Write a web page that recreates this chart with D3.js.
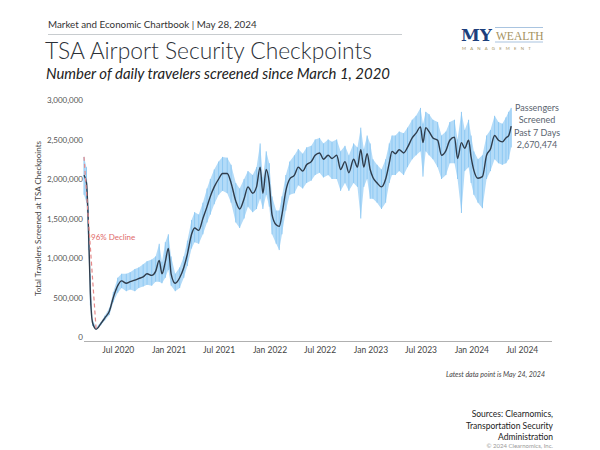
<!DOCTYPE html>
<html>
<head>
<meta charset="utf-8">
<script src="https://cdn.jsdelivr.net/npm/d3@7"></script>
<style>
  body { margin: 0; background: #fff; }
  svg { font-family: 'Lato', 'Noto Sans', sans-serif; }
</style>
</head>
<body>
<svg id="chart" width="600" height="450"></svg>
<script>
// 7-day average and daily range (millions)
const dates = [
  '2020-03-01', '2020-03-10', '2020-03-17', '2020-03-24', '2020-04-01', '2020-04-14',
  '2020-05-01', '2020-05-15', '2020-06-01', '2020-06-15', '2020-07-01', '2020-07-15',
  '2020-08-01', '2020-08-15', '2020-09-01', '2020-09-15', '2020-10-01', '2020-10-15',
  '2020-11-01', '2020-11-15', '2020-11-28', '2020-12-08', '2020-12-20', '2020-12-31',
  '2021-01-10', '2021-01-25', '2021-02-10', '2021-02-25', '2021-03-10', '2021-03-25',
  '2021-04-05', '2021-04-20', '2021-05-05', '2021-05-20', '2021-06-01', '2021-06-15',
  '2021-07-01', '2021-07-15', '2021-08-01', '2021-08-15', '2021-09-01', '2021-09-15',
  '2021-10-01', '2021-10-15', '2021-11-01', '2021-11-15', '2021-11-28', '2021-12-08',
  '2021-12-20', '2021-12-31', '2022-01-10', '2022-01-25', '2022-02-05', '2022-02-15',
  '2022-03-01', '2022-03-15', '2022-04-01', '2022-04-15', '2022-05-01', '2022-05-15',
  '2022-06-01', '2022-06-15', '2022-07-01', '2022-07-15', '2022-08-01', '2022-08-15',
  '2022-09-01', '2022-09-15', '2022-10-01', '2022-10-15', '2022-11-01', '2022-11-15',
  '2022-11-27', '2022-12-08', '2022-12-20', '2022-12-31', '2023-01-10', '2023-01-25',
  '2023-02-10', '2023-02-25', '2023-03-10', '2023-03-20', '2023-04-01', '2023-04-15',
  '2023-05-01', '2023-05-15', '2023-06-01', '2023-06-15', '2023-07-01', '2023-07-10',
  '2023-07-20', '2023-08-01', '2023-08-15', '2023-09-01', '2023-09-15', '2023-10-01',
  '2023-10-15', '2023-11-01', '2023-11-12', '2023-11-26', '2023-12-08', '2023-12-22',
  '2023-12-31', '2024-01-10', '2024-01-25', '2024-02-10', '2024-02-25', '2024-03-10',
  '2024-03-25', '2024-04-08', '2024-04-22', '2024-05-05', '2024-05-15', '2024-05-24',
]

const avg7 = [
  2.05, 1.95, 1.40, 0.55, 0.18, 0.10,
  0.17, 0.24, 0.33, 0.50, 0.65, 0.71,
  0.68, 0.70, 0.72, 0.74, 0.76, 0.80,
  0.78, 0.83, 0.97, 0.80, 0.95, 1.12,
  0.80, 0.68, 0.75, 0.88, 1.05, 1.30,
  1.38, 1.35, 1.50, 1.65, 1.78, 1.90,
  2.00, 2.07, 2.07, 1.95, 1.72, 1.62,
  1.75, 1.90, 1.82, 1.90, 2.15, 1.82,
  2.12, 1.95, 1.55, 1.42, 1.40, 1.55,
  1.85, 2.00, 2.05, 2.15, 2.10, 2.18,
  2.22, 2.30, 2.33, 2.25, 2.30, 2.26,
  2.30, 2.12, 2.22, 2.08, 2.25, 2.15,
  2.37, 2.15, 2.32, 2.12, 2.02, 1.95,
  1.90, 2.00, 2.20, 2.35, 2.32, 2.37,
  2.33, 2.40, 2.52, 2.58, 2.66, 2.46,
  2.65, 2.60, 2.52, 2.49, 2.30, 2.36,
  2.49, 2.53, 2.26, 2.46, 2.39, 2.49,
  2.28, 2.11, 2.01, 2.03, 2.30, 2.38,
  2.55, 2.49, 2.47, 2.52, 2.55, 2.67,
]

const dailyLow = [
  1.80, 1.70, 1.10, 0.40, 0.14, 0.09,
  0.15, 0.21, 0.28, 0.44, 0.56, 0.62,
  0.58, 0.60, 0.58, 0.62, 0.64, 0.66,
  0.65, 0.70, 0.70, 0.68, 0.75, 0.85,
  0.65, 0.58, 0.62, 0.75, 0.90, 1.12,
  1.20, 1.18, 1.30, 1.45, 1.55, 1.68,
  1.80, 1.85, 1.82, 1.70, 1.45, 1.38,
  1.50, 1.65, 1.58, 1.62, 1.75, 1.62,
  1.80, 1.65, 1.30, 1.18, 1.10, 1.30,
  1.60, 1.80, 1.82, 1.92, 1.88, 1.95,
  1.98, 2.05, 2.08, 2.02, 2.05, 2.00,
  2.00, 1.85, 1.95, 1.85, 1.95, 1.90,
  1.50, 1.90, 2.00, 1.75, 1.75, 1.70,
  1.62, 1.70, 1.95, 2.05, 2.05, 2.10,
  2.05, 2.15, 2.25, 2.30, 2.35, 2.03,
  2.35, 2.30, 2.25, 2.15, 2.00, 2.05,
  2.20, 2.20, 2.00, 1.57, 2.10, 2.15,
  1.95, 1.80, 1.70, 1.63, 2.00, 2.10,
  2.25, 2.20, 2.18, 2.20, 2.25, 2.40,
]

const dailyHigh = [
  2.28, 2.15, 1.65, 0.80, 0.22, 0.12,
  0.19, 0.27, 0.37, 0.57, 0.75, 0.80,
  0.80, 0.82, 0.86, 0.88, 0.92, 0.96,
  0.98, 1.02, 1.18, 0.95, 1.20, 1.30,
  1.02, 0.80, 0.88, 1.02, 1.22, 1.48,
  1.58, 1.55, 1.70, 1.88, 2.00, 2.12,
  2.22, 2.28, 2.27, 2.18, 1.95, 1.88,
  2.00, 2.10, 2.05, 2.15, 2.45, 2.02,
  2.35, 2.20, 1.78, 1.60, 1.60, 1.78,
  2.05, 2.22, 2.30, 2.38, 2.32, 2.40,
  2.42, 2.50, 2.52, 2.45, 2.50, 2.47,
  2.50, 2.35, 2.42, 2.30, 2.45, 2.40,
  2.65, 2.38, 2.55, 2.45, 2.25, 2.18,
  2.12, 2.25, 2.45, 2.55, 2.55, 2.60,
  2.58, 2.65, 2.75, 2.80, 2.90, 2.70,
  2.85, 2.82, 2.75, 2.72, 2.55, 2.60,
  2.72, 2.75, 2.50, 2.85, 2.62, 2.75,
  2.55, 2.35, 2.25, 2.30, 2.55, 2.62,
  2.80, 2.72, 2.70, 2.78, 2.85, 2.90,
]

const yTicks = [0, 500000, 1000000, 1500000, 2000000, 2500000, 3000000]
const xTicks = [
  '2020-07-01', '2021-01-01', '2021-07-01', '2022-01-01', '2022-07-01',
  '2023-01-01', '2023-07-01', '2024-01-01', '2024-07-01',
]
const latestLabel = ['Passengers', 'Screened', 'Past 7 Days', '2,670,474']
const sourceLines = ['Sources: Clearnomics,', 'Transportation  Security', 'Administration']

const parse = d3.timeParse('%Y-%m-%d')
const data = dates.map((d, i) => ({
  date: parse(d),
  avg: avg7[i] * 1e6,
  low: dailyLow[i] * 1e6,
  high: dailyHigh[i] * 1e6,
}))

const svg = d3.select('#chart')

const x = d3
  .scaleTime()
  .domain([parse('2020-03-01'), parse('2024-10-15')])
  .range([84, 551])

const y = d3.scaleLinear().domain([0, 3000000]).range([337, 100])

// header
svg
  .append('text')
  .attr('x', 48)
  .attr('y', 28)
  .style('font-size', '9.8px')
  .style('fill', '#333')
  .text('Market and Economic Chartbook | May 28, 2024')

svg
  .append('line')
  .attr('x1', 48)
  .attr('x2', 402)
  .attr('y1', 34.5)
  .attr('y2', 34.5)
  .style('stroke', '#c8cccf')
  .style('stroke-width', 1)

svg
  .append('text')
  .attr('x', 45)
  .attr('y', 59)
  .style('font-size', '22.8px')
  .style('font-weight', 300)
  .style('fill', '#2c3138')
  .text('TSA Airport Security Checkpoints')

svg
  .append('text')
  .attr('x', 46)
  .attr('y', 79)
  .style('font-size', '14.9px')
  .style('font-style', 'italic')
  .style('fill', '#222')
  .text('Number of daily travelers screened since March 1, 2020')

// logo
const logo = svg.append('g').attr('transform', 'translate(461, 0)')
logo
  .append('text')
  .attr('x', 0)
  .attr('y', 41)
  .style('font-family', "'DejaVu Serif', 'Liberation Serif', serif")
  .style('font-weight', 'bold')
  .style('font-size', '17px')
  .style('fill', '#1d3f7c')
  .text('MY')
logo
  .append('text')
  .attr('x', 35)
  .attr('y', 39.5)
  .style('font-family', "'Liberation Serif', serif")
  .style('font-size', '11.5px')
  .style('fill', '#a4915e')
  .text('WEALTH')
logo
  .selectAll('.logo-rule')
  .data([27.5, 42])
  .enter()
  .append('line')
  .attr('class', 'logo-rule')
  .attr('x1', 34)
  .attr('x2', 82)
  .attr('y1', (d) => d)
  .attr('y2', (d) => d)
  .style('stroke', '#a9c4e0')
  .style('stroke-width', 1.2)
logo
  .append('text')
  .attr('x', 1)
  .attr('y', 50)
  .style('font-size', '4.3px')
  .style('letter-spacing', '4.2px')
  .style('fill', '#a4915e')
  .text('MANAGEMENT')

// y axis
svg
  .append('g')
  .style('font-size', '8px')
  .selectAll('text')
  .data(yTicks)
  .enter()
  .append('text')
  .attr('x', 83)
  .attr('y', (d) => y(d) + 3)
  .attr('text-anchor', 'end')
  .style('fill', '#555')
  .text(d3.format(','))

svg
  .append('text')
  .attr('text-anchor', 'middle')
  .attr('transform', `translate(41, ${(y(0) + y(3000000)) / 2}) rotate(-90)`)
  .style('font-size', '8px')
  .style('fill', '#444')
  .text('Total Travelers Screened at TSA Checkpoints')

// x axis
svg
  .append('g')
  .attr('transform', 'translate(0, 341)')
  .call(
    d3
      .axisBottom(x)
      .tickValues(xTicks.map(parse))
      .tickFormat(d3.timeFormat('%b %Y'))
      .tickSize(0)
      .tickPadding(6),
  )
  .call((g) => g.select('.domain').attr('stroke', '#b0b0b0').attr('d', 'M84,0.5H552'))
  .call((g) =>
    g
      .selectAll('text')
      .style('font-family', "'Lato', 'Noto Sans', sans-serif")
      .style('font-size', '8.5px')
      .style('fill', '#444'),
  )

// daily range band
svg
  .append('path')
  .datum(data)
  .attr(
    'd',
    d3
      .area()
      .x((d) => x(d.date))
      .y0((d) => y(d.low))
      .y1((d) => y(d.high)),
  )
  .style('fill', '#b3dbf8')

svg
  .selectAll('.spike')
  .data(data)
  .enter()
  .append('line')
  .attr('class', 'spike')
  .attr('x1', (d) => x(d.date))
  .attr('x2', (d) => x(d.date))
  .attr('y1', (d) => y(d.low))
  .attr('y2', (d) => y(d.high))
  .style('stroke', '#8fc9f3')
  .style('stroke-width', 1)

// 7-day average
svg
  .append('path')
  .datum(data)
  .attr(
    'd',
    d3
      .line()
      .x((d) => x(d.date))
      .y((d) => y(d.avg))
      .curve(d3.curveMonotoneX),
  )
  .style('fill', 'none')
  .style('stroke', '#2f3c4b')
  .style('stroke-width', 1.4)

// decline marker
svg
  .append('line')
  .attr('x1', x(data[0].date))
  .attr('y1', y(2280000))
  .attr('x2', x(parse('2020-04-14')))
  .attr('y2', y(90000))
  .style('stroke', '#e58a8a')
  .style('stroke-width', 1.2)
  .style('stroke-dasharray', '4,3')

svg
  .append('text')
  .attr('x', 91)
  .attr('y', 240)
  .style('font-size', '8px')
  .style('fill', '#e06a6a')
  .text('96% Decline')

// latest annotation
svg
  .append('g')
  .selectAll('text')
  .data(latestLabel)
  .enter()
  .append('text')
  .attr('x', 537)
  .attr('y', (d, i) => 111 + i * 12.3)
  .attr('text-anchor', 'middle')
  .style('font-size', '9px')
  .style('fill', '#5a6470')
  .text((d) => d)

svg
  .append('text')
  .attr('x', 545)
  .attr('y', 377)
  .attr('text-anchor', 'end')
  .style('font-size', '7px')
  .style('font-style', 'italic')
  .style('fill', '#444')
  .text('Latest data point is May 24, 2024')

// sources
svg
  .append('g')
  .selectAll('text')
  .data(sourceLines)
  .enter()
  .append('text')
  .attr('x', 553)
  .attr('y', (d, i) => 417 + i * 11.5)
  .attr('text-anchor', 'end')
  .style('font-size', '8.5px')
  .style('fill', '#222')
  .text((d) => d)

svg
  .append('text')
  .attr('x', 553)
  .attr('y', 448)
  .attr('text-anchor', 'end')
  .style('font-size', '6px')
  .style('fill', '#999')
  .text('© 2024 Clearnomics, Inc.')
</script>
</body>
</html>
